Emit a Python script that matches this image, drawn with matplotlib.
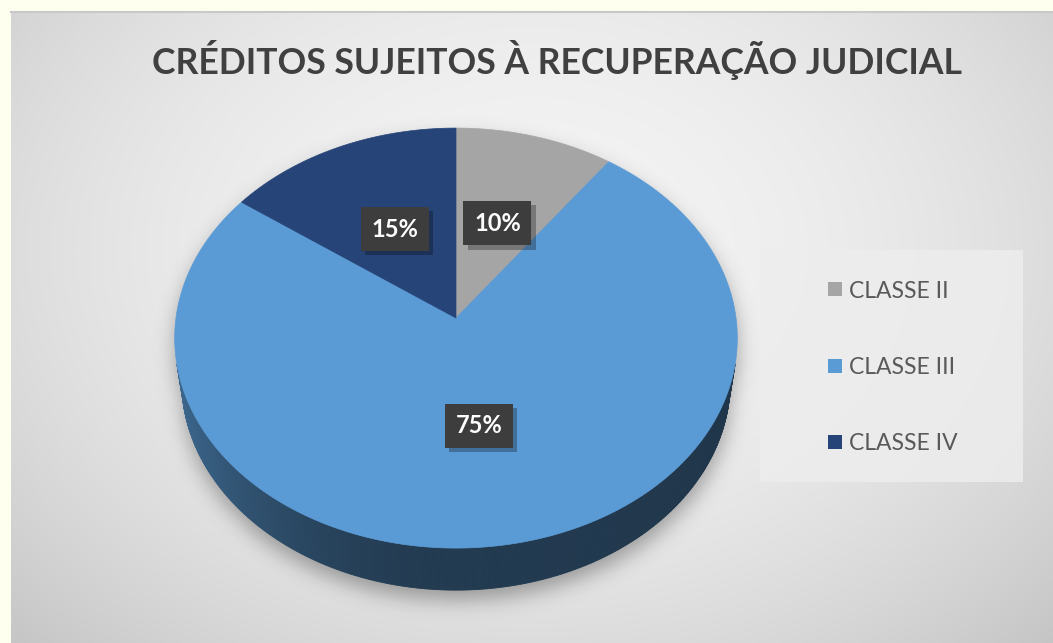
import numpy as np
import matplotlib
matplotlib.use('Agg')
import matplotlib.pyplot as plt
from matplotlib.path import Path
from matplotlib.patches import Polygon, Rectangle
import matplotlib.colors as mcolors
import matplotlib.patheffects as pe

# ---------------- data ----------------
categories = ['CLASSE II', 'CLASSE III', 'CLASSE IV']
values = [10, 75, 15]
colors = ['#A5A5A5', '#5B9BD5', '#264478']
title = 'CRÉDITOS SUJEITOS À RECUPERAÇÃO JUDICIAL'

FONT = 'Lato'
W, H = 1053, 643
fig = plt.figure(figsize=(W / 100, H / 100), dpi=100)
fig.patch.set_facecolor('#FFFFF0')
ax = fig.add_axes([0, 0, 1, 1])
ax.set_xlim(0, W)
ax.set_ylim(H, 0)
ax.axis('off')

# ---------------- background panel (radial gradient) ----------------
px0, py0 = 11, 11
yy, xx = np.mgrid[py0:H, px0:W]
r2 = ((xx - 530) / 600.0) ** 2 + ((yy - 250) / 450.0) ** 2
val = np.clip(0.955 - 0.12 * r2, 0, 1)
ax.imshow(np.dstack([val, val, val]), extent=(px0, W, H, py0), origin='upper',
          aspect='auto', zorder=0, interpolation='bilinear')
ax.plot([px0, W], [py0 + 0.5, py0 + 0.5], color='#C8C8C8', lw=1.5, zorder=0.5)

# ---------------- 3D pie projection ----------------
cx, cy, R = 456, 318, 280
elev = np.radians(48)
D = 7.0
h = 0.24
s, c = np.sin(elev), np.cos(elev)


def proj(u, v, z):
    Y = v * s + z * c
    d = v * c - z * s
    k = D / (D + d)
    return cx + R * u * k, cy - R * Y * k


total = float(sum(values))
fracs = [v / total for v in values]
bounds = np.concatenate([[0], np.cumsum(fracs)]) * 360.0  # compass degrees clockwise from top

# shadow
th = np.linspace(0, 2 * np.pi, 400)
tx, ty = proj(np.cos(th), np.sin(th), 0)
bx, by = proj(np.cos(th), np.sin(th), -h)
step = 2
gy, gx = np.mgrid[0:H:step, 0:W:step]
off = 10
pts = np.column_stack([gx.ravel(), gy.ravel() - off])
m = (Path(np.column_stack([tx, ty])).contains_points(pts) |
     Path(np.column_stack([bx, by])).contains_points(pts)).reshape(gx.shape).astype(float)
sig = 10.0 / step
kx = np.arange(-int(4 * sig), int(4 * sig) + 1)
ker = np.exp(-kx ** 2 / (2 * sig ** 2))
ker /= ker.sum()
m = np.apply_along_axis(lambda r: np.convolve(r, ker, mode='same'), 1, m)
m = np.apply_along_axis(lambda r: np.convolve(r, ker, mode='same'), 0, m)
shadow = np.zeros(m.shape + (4,))
shadow[..., 0:3] = 0.25
shadow[..., 3] = m * 0.45
ax.imshow(shadow, extent=(0, W, H, 0), origin='upper', aspect='auto', zorder=1,
          interpolation='bilinear')


def comp_to_uv(a):
    t = np.radians(90.0 - a)
    return np.cos(t), np.sin(t)


# side walls (visible, front facing)
quads = []
for i, col in enumerate(colors):
    a0, a1 = bounds[i], bounds[i + 1]
    n = max(2, int((a1 - a0) / 0.5))
    angs = np.linspace(a0, a1, n + 1)
    base = np.array(mcolors.to_rgb(col))
    for j in range(n):
        am = 0.5 * (angs[j] + angs[j + 1])
        um, vm = comp_to_uv(am)
        if -1 - D * c * vm <= 0:
            continue
        u0, v0 = comp_to_uv(angs[j])
        u1, v1 = comp_to_uv(angs[j + 1])
        p = [proj(u0, v0, 0), proj(u1, v1, 0), proj(u1, v1, -h), proj(u0, v0, -h)]
        f = 0.38 + 0.30 * max(0.0, -um) ** 2 - 0.03 * max(0.0, um)
        quads.append((vm * c, p, np.clip(base * f, 0, 1)))
quads.sort(key=lambda q: -q[0])
for _, p, fc in quads:
    ax.add_patch(Polygon(p, closed=True, facecolor=fc, edgecolor=fc, lw=0.6, zorder=2))

# top face wedges
for i, col in enumerate(colors):
    a0, a1 = bounds[i], bounds[i + 1]
    angs = np.linspace(a0, a1, max(3, int(a1 - a0) * 2))
    u, v = comp_to_uv(angs)
    ex, ey = proj(u, v, 0)
    pts_w = [proj(0, 0, 0)] + list(zip(ex, ey))
    ax.add_patch(Polygon(pts_w, closed=True, facecolor=col, edgecolor=col, lw=0.5, zorder=3))

# data labels
for i in range(len(values)):
    am = 0.5 * (bounds[i] + bounds[i + 1])
    u, v = comp_to_uv(am)
    lx, ly = proj(0.5 * u, 0.5 * v, 0)
    lab = f'{values[i]:.0f}%'
    t = ax.text(lx, ly, lab, ha='center', va='center', fontsize=17, fontweight='bold',
                color='white', family=FONT, zorder=10,
                bbox=dict(boxstyle='square,pad=0.45', fc='#3D3D3D', ec='none'))
    t.get_bbox_patch().set_path_effects([
        pe.SimplePatchShadow(offset=(3, -3), shadow_rgbFace='black', alpha=0.28),
        pe.Normal()])

# title
ax.text(557, 74, title, ha='center', va='baseline', fontsize=25.6, fontweight='bold',
        color='#404040', family=FONT, zorder=5)

# legend
ax.add_patch(Rectangle((760, 250), 263, 232, facecolor='#EDEDED', edgecolor='none',
                       alpha=0.85, zorder=4))
leg_y = [289, 366, 442]
for name, col, yc in zip(categories, colors, leg_y):
    ax.add_patch(Rectangle((828, yc - 7), 14, 14, facecolor=col, edgecolor='none', zorder=5))
    ax.text(849, yc + 8.5, name, ha='left', va='baseline', fontsize=16.5,
            color='#595959', family=FONT, zorder=5)

fig.savefig('out.png', dpi=100, facecolor=fig.get_facecolor())
